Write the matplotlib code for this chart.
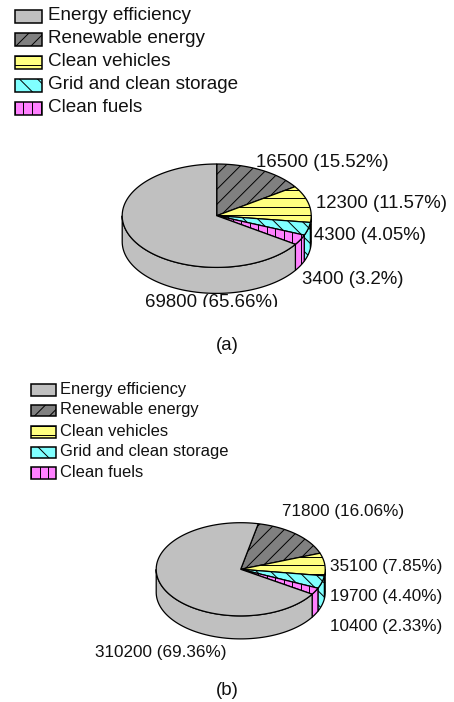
import numpy as np
import matplotlib
matplotlib.use("Agg")
import matplotlib.pyplot as plt
from matplotlib.patches import Polygon, Rectangle

plt.rcParams["font.family"] = ["Liberation Sans", "DejaVu Sans"]

categories = ["Energy efficiency", "Renewable energy", "Clean vehicles",
              "Grid and clean storage", "Clean fuels"]
# slice order round the pie, clockwise
values_a = [16500, 12300, 4300, 3400, 69800]
percent_a = ["15.52%", "11.57%", "4.05%", "3.2%", "65.66%"]
values_b = [71800, 35100, 19700, 10400, 310200]
percent_b = ["16.06%", "7.85%", "4.40%", "2.33%", "69.36%"]

# fill, hatch kind, hatch spacing in px on the pie, spacing in the legend
styles = {
    "Energy efficiency": ("#c0c0c0", None, 0, 0),
    "Renewable energy": ("#808080", "/", 15, 15),
    "Clean vehicles": ("#ffff80", "-", 8.5, 9),
    "Grid and clean storage": ("#80ffff", "\\", 14, 18),
    "Clean fuels": ("#ff80ff", "|", 8.5, 8.7),
}
slice_order = ["Renewable energy", "Clean vehicles", "Grid and clean storage",
               "Clean fuels", "Energy efficiency"]

fig = plt.figure(figsize=(4.54, 7.02), dpi=100)
ax = fig.add_axes([0, 0, 1, 1])
ax.set_xlim(0, 454)
ax.set_ylim(702, 0)
ax.axis("off")


def hatch_lines(patch, kind, gap, box):
    # parallel lines clipped to the patch
    x0, y0, x1, y1 = box
    if kind == "-":
        segs = [((x0, y), (x1, y)) for y in np.arange(y0, y1, gap)]
    elif kind == "|":
        segs = [((x, y0), (x, y1)) for x in np.arange(x0, x1, gap)]
    elif kind == "/":
        h = y1 - y0
        segs = [((x, y1), (x + h, y0)) for x in np.arange(x0 - h, x1, gap)]
    else:
        h = y1 - y0
        segs = [((x, y0), (x + h, y1)) for x in np.arange(x0 - h, x1, gap)]
    for a, b in segs:
        line, = ax.plot([a[0], b[0]], [a[1], b[1]], color="black", lw=0.7)
        line.set_clip_path(patch)


def filled(pts, style, box):
    color, kind, gap, _ = style
    p = Polygon(pts, closed=True, facecolor=color, edgecolor="none")
    ax.add_patch(p)
    if kind:
        hatch_lines(p, kind, gap, box)
    ax.add_patch(Polygon(pts, closed=True, fill=False, edgecolor="black", lw=0.9))


def pie3d(cx, cy, rx, ry, depth, start, values):
    total = sum(values)
    box = (cx - rx, cy - ry, cx + rx, cy + ry + depth)
    edges = start + np.cumsum([0] + list(values)) / total * 360
    # side walls first, only the front half shows
    for name, a, b in zip(slice_order, edges[:-1], edges[1:]):
        lo, hi = max(a, 90), min(b, 270)
        if lo >= hi:
            continue
        t = np.radians(np.linspace(lo, hi, 80))
        x = cx + rx * np.sin(t)
        y = cy - ry * np.cos(t)
        pts = np.r_[np.c_[x, y], np.c_[x, y + depth][::-1]]
        filled(pts, styles[name], box)
    # top face
    for name, a, b in zip(slice_order, edges[:-1], edges[1:]):
        t = np.radians(np.linspace(a, b, 120))
        x = cx + rx * np.sin(t)
        y = cy - ry * np.cos(t)
        pts = np.r_[[[cx, cy]], np.c_[x, y]]
        filled(pts, styles[name], box)


def legend(x, tx, ys, w, h, size, lift):
    for name, y in zip(categories, ys):
        color, kind, _, gap = styles[name]
        r = Rectangle((x, y), w, h, facecolor=color, edgecolor="none")
        ax.add_patch(r)
        if kind:
            hatch_lines(r, kind, gap, (x, y, x + w, y + h))
        ax.add_patch(Rectangle((x, y), w, h, fill=False, edgecolor="black", lw=1.1))
        ax.text(tx, y + h / 2 - lift, name, fontsize=size, va="center", ha="left", color="#111111")


legend(14.5, 48, [9.5, 32.5, 55.5, 78.5, 101.5], 27.5, 13.5, 13.6, 0.5)
legend(31, 60.5, [384, 404.5, 426, 446.5, 467], 24.5, 11.5, 11.9, 0.5)

pie3d(216.7, 215.7, 94.5, 51.7, 26, 0, values_a)
pie3d(240.7, 569.3, 84.5, 46.6, 23, 12, values_b)

pos_a = [(256.5, 162.5), (316, 204), (314, 235.5), (302.5, 279.5), (145, 302.5)]
for (x, y), v, p in zip(pos_a, values_a, percent_a):
    t = ax.text(x, y, f"{v} ({p})", fontsize=13.4, va="center", ha="left", color="#111111")
    # the reference cuts the bottom of its last label
    t.set_clip_on(True)
    t.set_clip_path(Rectangle((0, 0), 454, 307, transform=ax.transData))
pos_b = [(281.5, 511.5), (330, 566.5), (330, 596), (330, 626), (95, 652)]
for (x, y), v, p in zip(pos_b, values_b, percent_b):
    ax.text(x, y, f"{v} ({p})", fontsize=12.3, va="center", ha="left", color="#111111")

ax.text(227, 345.5, "(a)", fontsize=13.4, ha="center", va="center", color="#111111")
ax.text(227, 690.5, "(b)", fontsize=13.4, ha="center", va="center", color="#111111")

fig.savefig("out.png", dpi=100)
